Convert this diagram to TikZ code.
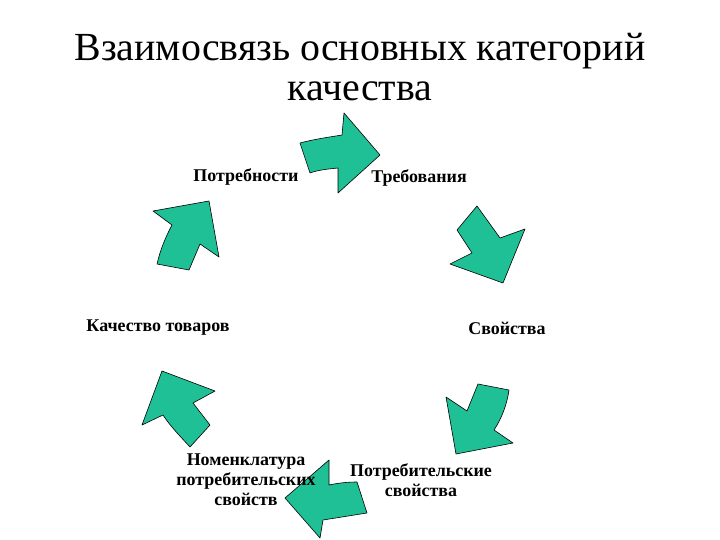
\documentclass[tikz,border=0pt]{standalone}
\usepackage{fontspec}
\setmainfont{Liberation Serif}
\definecolor{arrowfill}{RGB}{32,192,150}
\tikzset{
  blockarrow/.style={fill=arrowfill, draw=black, line width=0.6bp, line join=round},
  titletext/.style={font=\fontsize{40}{40}\selectfont, inner sep=0pt},
  labeltext/.style={font=\fontsize{18}{20}\selectfont\bfseries, inner sep=0pt, align=center}
}
\begin{document}
\begin{tikzpicture}[x=1bp,y=-1bp]
\useasboundingbox (0,0) rectangle (720,540);
% arrows
\draw[blockarrow] (300,143) .. controls (315,139) and (330,137) .. (342,135) -- (344,113) -- (380,155) -- (338,193) -- (338,168) .. controls (328,169) and (318,170) .. (310,173) -- cycle;
\draw[blockarrow] (457,230) -- (477,206) -- (500,238) -- (525,229) -- (503,283) -- (450,264) -- (472,253) -- cycle;
\draw[blockarrow] (478,384) -- (509,390) .. controls (507,404) and (502,418) .. (494,430) -- (513,443) -- (456,454) -- (446,397) -- (467,411) -- cycle;
\draw[blockarrow] (285,498) -- (329,460) -- (329,485) .. controls (338,483) and (348,482) .. (357,482) -- (367,513) -- (323,520) -- (320,538) -- cycle;
\draw[blockarrow] (162,371) -- (215,391) -- (193,403) -- (210,425) -- (190,447) .. controls (180,436) and (170,426) .. (163,415) -- (142,425) -- cycle;
\draw[blockarrow] (209,201) -- (219,257) -- (200,244) -- (189,270) -- (157,264) .. controls (160,251) and (165,238) .. (172,225) -- (153,211) -- cycle;
% title
\node[titletext, anchor=base] (title1) at (360,61) {Взаимосвязь основных категорий};
\node[titletext, anchor=base] (title2) at (360,101) {качества};
% labels
\node[labeltext] (need) at (246,177) {Потребности};
\node[labeltext] (req) at (419,178) {Требования};
\node[labeltext] (prop) at (507,328) {Свойства};
\node[labeltext] (consprop) at (421,480) {Потребительские\\свойства};
\node[labeltext] (nomen) at (246,480) {Номенклатура\\потребительских\\свойств};
\node[labeltext] (quality) at (158,328) {Качество товаров};
\end{tikzpicture}
\end{document}
